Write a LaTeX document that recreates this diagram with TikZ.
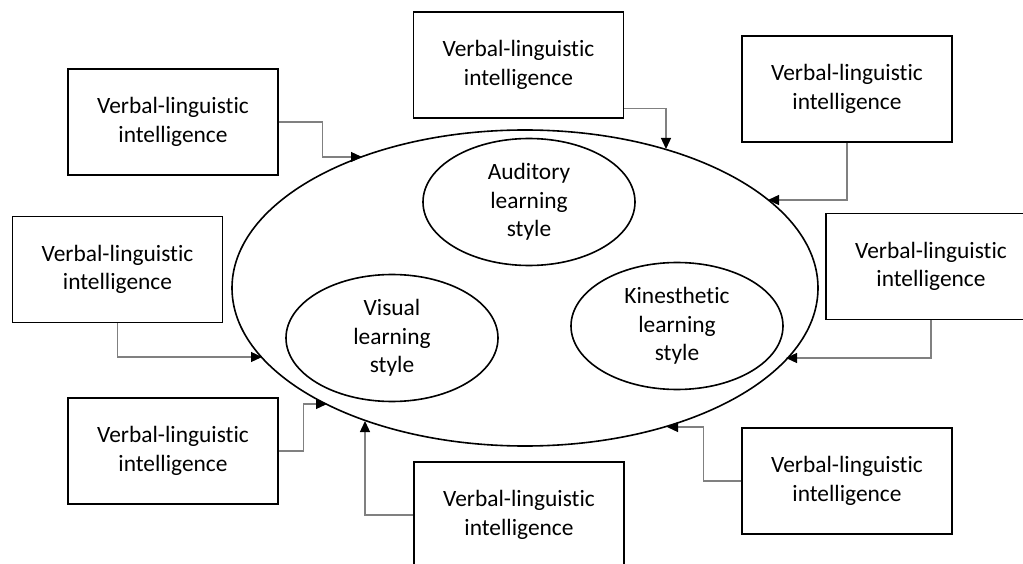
\documentclass[tikz,border=0pt]{standalone}
\usepackage{fontspec}
\setmainfont{Carlito}[Ligatures=NoCommon]
\usetikzlibrary{arrows.meta,shapes.geometric}
\definecolor{conngray}{RGB}{128,128,128}
\begin{document}
\begin{tikzpicture}[x=1pt,y=-1pt,
  txt/.style={font=\fontsize{23.4}{28.5}\selectfont, align=center},
  vbox/.style={txt, draw=black, line width=1.6pt, minimum width=210pt, minimum height=106pt, inner sep=0pt},
  lstyle/.style={txt, ellipse, draw=black, line width=1.6pt, minimum width=212pt, minimum height=127pt, inner sep=0pt},
  conn/.style={draw=conngray, line width=1.3pt, -{Triangle[length=11pt,width=10pt,color=black]}}]
\useasboundingbox (0,0) rectangle (1023,564);
% big ellipse
\node[ellipse, draw=black, line width=1.6pt, minimum width=586pt, minimum height=316pt, inner sep=0pt] (big) at (525,288) {};
% learning styles
\node[lstyle] (aud) at (529,202) {Auditory\\learning\\style};
\node[lstyle] (vis) at (392,338) {Visual\\learning\\style};
\node[lstyle] (kin) at (677,326) {Kinesthetic\\learning\\style};
% boxes
\node[vbox] (b1) at (173,122) {Verbal-linguistic\\intelligence};
\node[vbox] (b2) at (518.5,65) {Verbal-linguistic\\intelligence};
\node[vbox] (b3) at (847,89) {Verbal-linguistic\\intelligence};
\node[vbox] (b4) at (931,266.5) {Verbal-linguistic\\intelligence};
\node[vbox] (b5) at (117.5,269.5) {Verbal-linguistic\\intelligence};
\node[vbox] (b6) at (173,451) {Verbal-linguistic\\intelligence};
\node[vbox] (b7) at (519,515) {Verbal-linguistic\\intelligence};
\node[vbox] (b8) at (847,481) {Verbal-linguistic\\intelligence};
% arrow targets on the big ellipse
\coordinate (t1) at (362,157);
\coordinate (t2) at (666,149);
\coordinate (t3) at (768,200);
\coordinate (t4) at (786,358);
\coordinate (t5) at (262,357);
\coordinate (t6) at (327,404);
\coordinate (t7) at (365,421);
\coordinate (t8) at (667,427);
% connectors
\draw[conn] (b1.east) -- ++(44,0) |- (t1);
\draw[conn] ([yshift=10pt]b2.south east) -| (t2);
\draw[conn] (b3.south) |- (t3);
\draw[conn] (b4.south) |- (t4);
\draw[conn] (b5.south) |- (t5);
\draw[conn] (b6.east) -- ++(25,0) |- (t6);
\draw[conn] (b7.west) -| (t7);
\draw[conn] (b8.west) -- ++(-38,0) |- (t8);
\end{tikzpicture}
\end{document}
